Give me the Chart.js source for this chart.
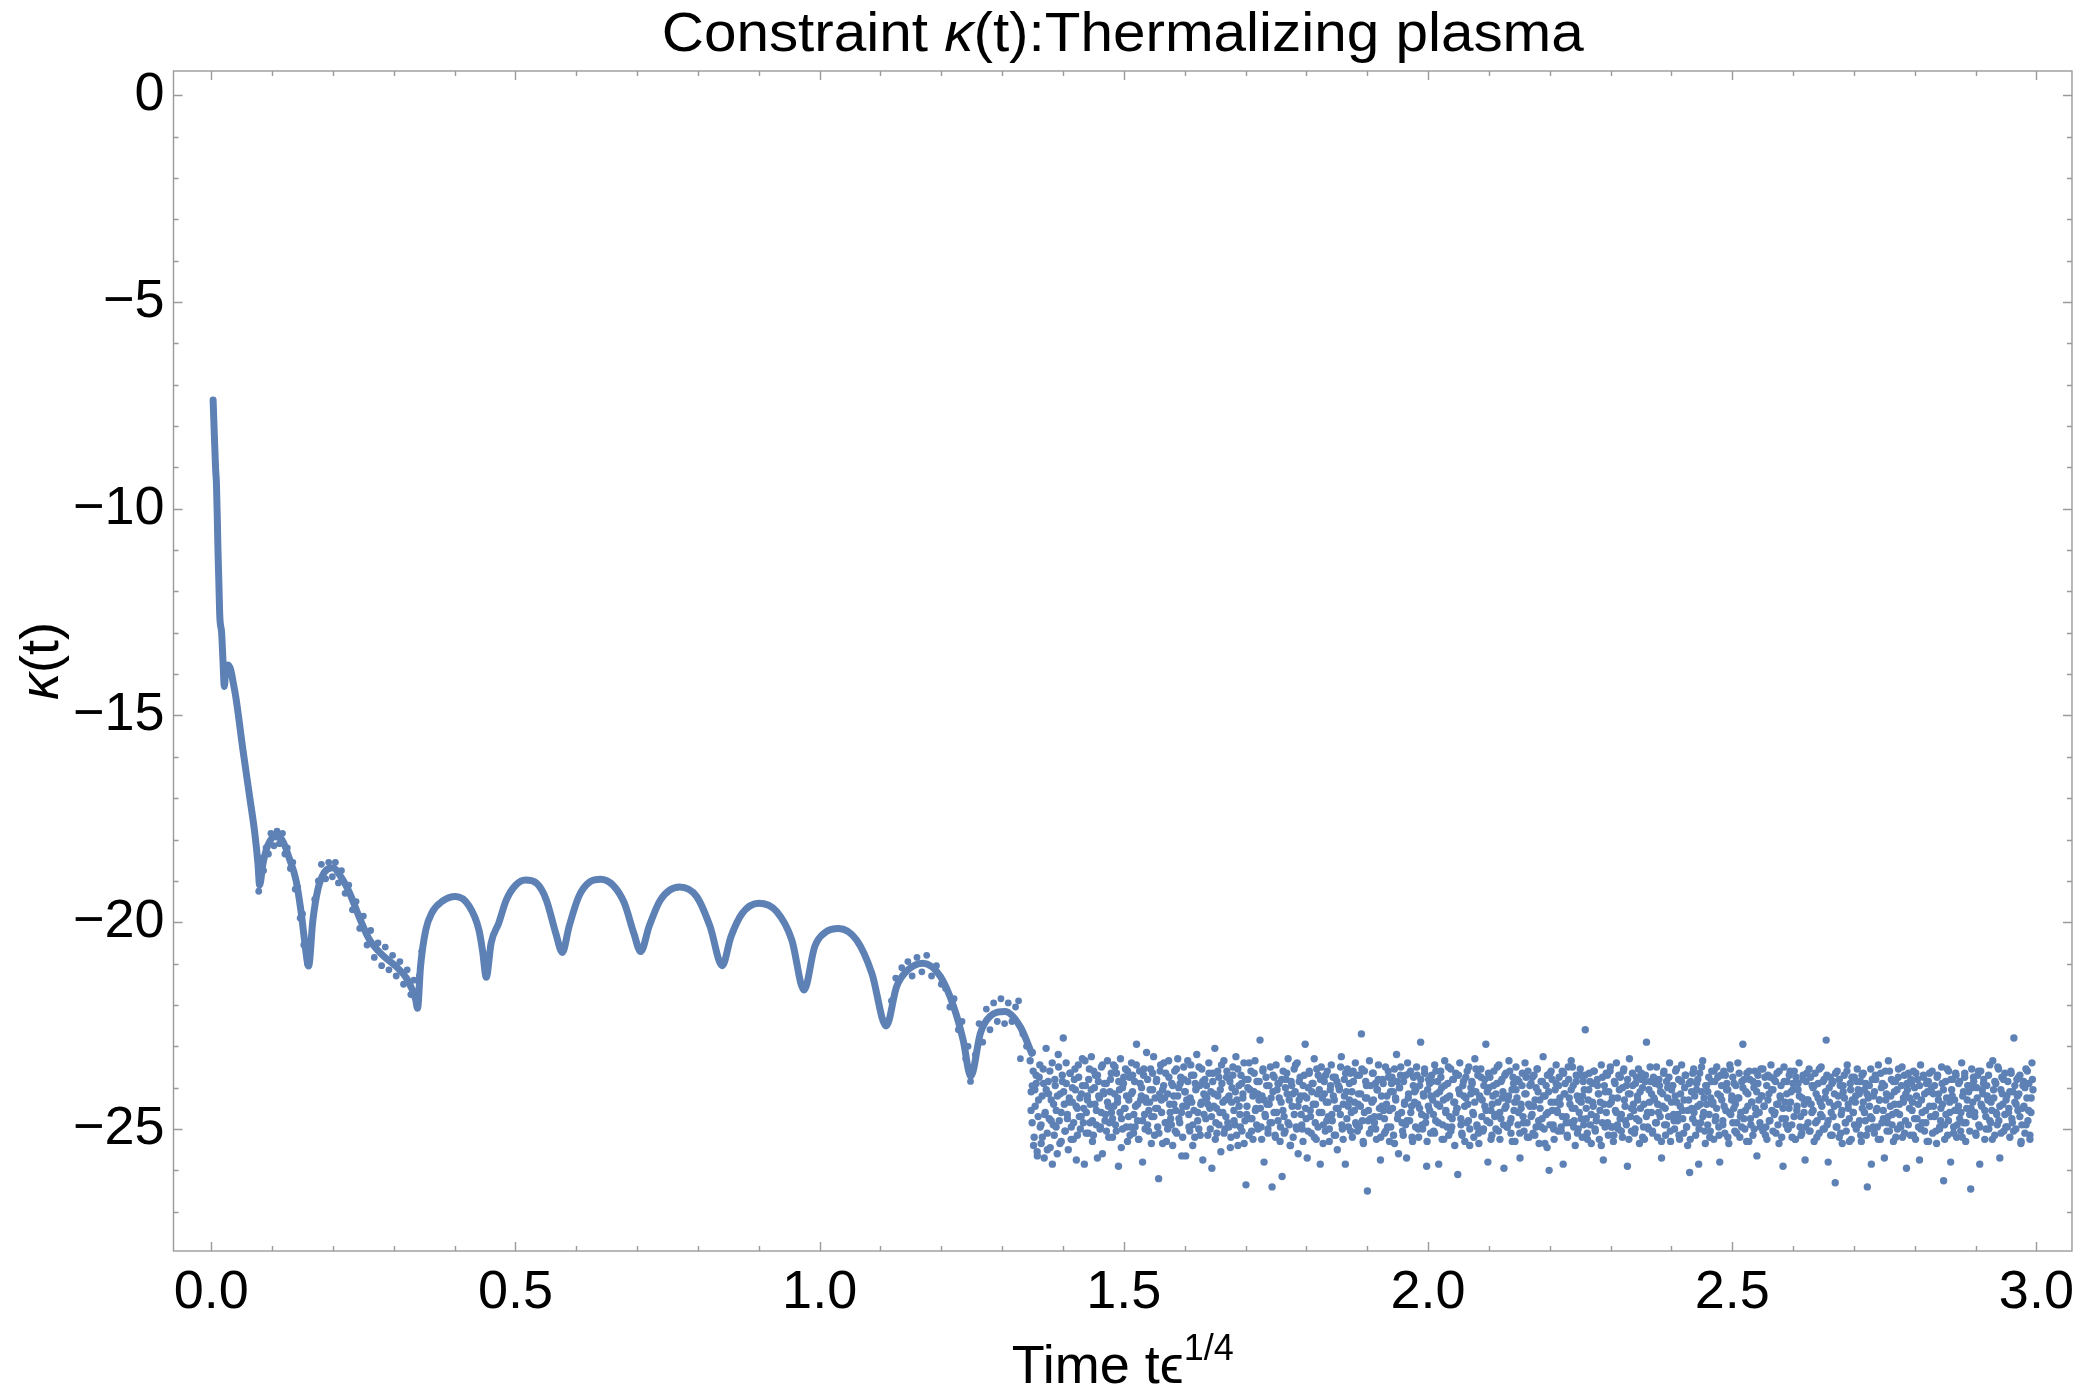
<!DOCTYPE html>
<html>
<head>
<meta charset="utf-8">
<title>Constraint κ(t): Thermalizing plasma</title>
<script src="https://cdn.jsdelivr.net/npm/chart.js@4.4.1/dist/chart.umd.min.js"></script>
<style>
  html, body { margin: 0; padding: 0; background: #fff; }
  #myChart { display: block; }
</style>
</head>
<body>
<canvas id="myChart" width="2084" height="1398"></canvas>
<script>
//DATA
// smooth part of kappa(t): early drop and the bouncing arches
const curveT = [0.003, 0.005, 0.007, 0.0085, 0.010, 0.011, 0.0125, 0.014, 0.017, 0.019, 0.0215,
  0.024, 0.028, 0.032, 0.036, 0.041, 0.052, 0.063, 0.0713, 0.0767, 0.0794,
  0.085, 0.093, 0.104, 0.115, 0.1286, 0.1395, 0.1477, 0.153, 0.160,
  0.1668, 0.175, 0.186, 0.1995, 0.213, 0.227, 0.243, 0.2596, 0.281, 0.303, 0.322, 0.336, 0.339,
  0.344, 0.3525, 0.363, 0.380, 0.4016, 0.4234, 0.44, 0.446, 0.452,
  0.46, 0.4725, 0.485, 0.5006, 0.5163, 0.535, 0.5507, 0.5663, 0.577,
  0.5882, 0.604, 0.6227, 0.640, 0.660, 0.679, 0.6946, 0.7059,
  0.7197, 0.7384, 0.7697, 0.7979, 0.8198, 0.8398,
  0.8542, 0.873, 0.90, 0.9293, 0.9543, 0.9743,
  0.9919, 1.0106, 1.0313, 1.0607, 1.0857, 1.1095,
  1.1264, 1.1452, 1.170, 1.1984, 1.2203, 1.2359, 1.2484,
  1.2641, 1.2797, 1.3048, 1.3298, 1.3486];
const curveK = [-7.37, -8.2, -9.0, -9.4, -10.3, -11.0, -11.8, -12.6, -13.0, -13.6, -14.3,
  -13.85, -13.78, -13.9, -14.2, -14.62, -15.83, -16.96, -17.82, -18.58, -19.1,
  -18.58, -18.14, -17.93, -17.98, -18.47, -19.0, -19.76, -20.4, -21.06,
  -19.98, -19.22, -18.79, -18.68, -18.9, -19.28, -19.87, -20.41, -20.79, -21.06, -21.38, -21.87, -22.08,
  -21.06, -20.19, -19.76, -19.49, -19.38, -19.6, -20.19, -20.7, -21.33,
  -20.5, -20.02, -19.46, -19.1, -18.98, -19.06, -19.46, -20.27, -20.73,
  -20.1, -19.38, -19.02, -18.96, -19.1, -19.54, -20.27, -20.71,
  -20.1, -19.46, -19.15, -19.38, -20.1, -21.05,
  -20.35, -19.78, -19.54, -19.74, -20.43, -21.64,
  -20.59, -20.23, -20.15, -20.43, -21.23, -22.51,
  -21.56, -21.15, -20.99, -21.31, -22.04, -22.85, -23.73,
  -22.69, -22.28, -22.16, -22.53, -23.17];

// scattered points around the noisier arches
const jitterT = [0.078, 0.080, 0.082, 0.086, 0.090, 0.094, 0.098, 0.103, 0.108, 0.112, 0.117, 0.121,
  0.125, 0.130, 0.134, 0.138, 0.142, 0.146, 0.150, 0.152, 0.156, 0.158, 0.162,
  0.170, 0.176, 0.181, 0.188, 0.193, 0.199, 0.204, 0.209, 0.214, 0.220, 0.226, 0.232, 0.238,
  0.244, 0.250, 0.256, 0.262, 0.268, 0.274, 0.280, 0.286, 0.292, 0.298, 0.304, 0.310, 0.316,
  0.322, 0.328, 0.333, 0.337, 0.342, 0.346,
  1.118, 1.125, 1.135, 1.145, 1.152, 1.160, 1.168, 1.176, 1.184, 1.192, 1.200, 1.207, 1.214,
  1.221, 1.228, 1.234, 1.240, 1.244, 1.248, 1.252, 1.256, 1.262, 1.268, 1.274, 1.280, 1.286,
  1.292, 1.298, 1.304, 1.310, 1.316, 1.322, 1.327, 1.330, 1.334, 1.340, 1.349];
const jitterK = [-19.25, -18.90, -18.45, -18.75, -18.20, -18.35, -17.85, -18.15, -17.80, -18.10, -17.85, -18.35,
  -18.20, -18.70, -18.55, -19.20, -19.15, -19.90, -19.80, -20.55, -20.60, -21.00, -20.50,
  -19.45, -19.00, -18.60, -18.95, -18.55, -18.90, -18.55, -19.05, -18.75, -19.30, -19.10, -19.70, -19.50,
  -20.15, -19.85, -20.55, -20.20, -20.85, -20.50, -21.05, -20.60, -21.15, -20.80, -21.30, -20.95, -21.50,
  -21.15, -21.75, -21.40, -21.95, -21.30, -20.70,
  -21.90, -21.35, -21.10, -20.95, -21.30, -20.85, -21.20, -20.80, -21.30, -21.05, -21.50, -21.60, -22.05,
  -21.85, -22.60, -22.40, -23.30, -23.00, -23.85, -23.50, -23.20, -22.45, -22.90, -22.10, -22.60, -21.95,
  -22.40, -21.85, -22.45, -21.95, -22.40, -22.05, -21.90, -23.30, -22.70, -23.00, -23.95];

// thermalized plateau, sampled every noiseStep from noiseStart
const noiseStart = 1.346;
const noiseStep = 0.00165;
const noiseK = [
  -23.35,-24.10,-24.85,-23.60,-25.20,-24.45,-23.90,-25.55,-24.70,-23.75,-24.95,-25.35,-24.20,-23.55,-25.70,-24.60,-24.05,-25.10,-23.85,-24.75,
  -25.45,-24.30,-23.40,-24.90,-25.15,-23.95,-24.55,-25.60,-23.20,-24.80,-24.15,-25.30,-23.70,-22.80,-24.40,-25.05,-23.90,-24.65,-25.50,-24.25,
  -23.65,-24.95,-24.35,-25.25,-23.80,-24.05,-25.75,-24.50,-23.45,-24.70,-25.00,-24.15,-23.30,-24.85,-25.85,-23.95,-24.60,-24.20,-25.10,-23.55,
  -24.40,-23.25,-24.80,-25.15,-24.00,-23.70,-24.55,-25.70,-23.85,-24.25,-24.95,-23.50,-25.60,-24.10,-23.90,-24.65,-25.05,-23.35,-24.45,-24.85,
  -23.80,-24.60,-25.20,-23.45,-24.15,-24.90,-23.65,-24.35,-25.90,-24.05,-23.30,-24.75,-25.00,-23.90,-24.50,-23.55,-24.20,-25.30,-24.70,-23.75,
  -24.95,-23.40,-24.10,-25.10,-23.85,-24.45,-22.95,-24.80,-25.25,-23.60,-24.30,-24.00,-25.80,-23.70,-24.65,-24.25,-23.15,-24.90,-25.05,-24.35,
  -23.55,-24.70,-24.05,-23.25,-25.15,-24.50,-23.80,-24.95,-26.20,-24.15,-23.45,-24.60,-25.35,-23.95,-24.25,-23.65,-24.85,-25.00,-23.35,-24.40,
  -24.75,-23.90,-25.40,-24.20,-23.60,-24.55,-25.10,-23.30,-24.00,-24.85,-23.75,-25.65,-24.45,-23.50,-24.10,-25.65,-24.30,-23.85,-24.65,-25.05,
  -23.45,-24.35,-24.90,-23.70,-25.20,-24.05,-23.20,-24.60,-25.00,-23.95,-24.40,-23.55,-25.75,-24.15,-23.80,-24.75,-24.25,-25.15,-23.40,-24.50,
  -24.10,-25.95,-23.65,-24.45,-23.05,-24.85,-25.10,-24.20,-23.75,-24.60,-25.55,-23.90,-24.35,-23.35,-25.00,-24.70,-23.60,-24.25,-24.95,-23.85,
  -25.20,-24.00,-23.50,-24.55,-24.90,-23.25,-24.30,-25.40,-23.95,-24.65,-23.70,-25.05,-24.15,-23.40,-24.80,-26.35,-24.45,-23.80,-25.15,-24.05,
  -23.60,-24.75,-25.25,-24.10,-23.35,-24.50,-23.85,-25.00,-24.30,-22.85,-24.95,-24.20,-23.55,-25.80,-24.65,-23.75,-24.40,-25.10,-23.95,-24.85,
  -24.25,-26.40,-23.70,-24.60,-25.15,-23.45,-24.05,-24.80,-23.90,-25.30,-24.35,-26.15,-23.60,-24.70,-25.05,-23.80,-24.15,-23.30,-24.90,-25.40,
  -23.85,-24.45,-25.20,-23.55,-24.10,-24.95,-23.40,-25.60,-24.30,-23.75,-24.65,-25.00,-23.95,-24.20,-22.95,-24.75,-25.70,-24.00,-23.65,-24.55,
  -25.10,-23.90,-24.40,-23.30,-24.85,-25.25,-24.15,-23.70,-24.60,-25.85,-23.50,-24.25,-24.90,-23.85,-25.05,-24.35,-23.60,-24.70,-25.30,-24.05,
  -23.45,-24.80,-24.20,-25.15,-23.75,-24.50,-25.50,-23.95,-24.05,-24.65,-23.25,-25.00,-24.40,-23.80,-25.85,-24.10,-23.55,-24.95,-24.30,-23.65,
  -24.60,-25.20,-23.85,-24.35,-23.40,-24.90,-25.05,-24.15,-23.70,-24.45,-22.70,-24.80,-25.35,-23.60,-24.25,-23.95,-26.50,-24.55,-23.35,-24.75,
  -25.00,-23.65,-24.30,-24.85,-23.90,-25.25,-24.05,-23.45,-24.70,-25.75,-24.20,-23.80,-24.55,-25.10,-23.50,-24.40,-24.95,-23.75,-25.30,-24.10,
  -23.90,-24.50,-25.15,-23.55,-24.25,-23.20,-24.75,-25.60,-24.00,-23.70,-24.60,-25.05,-23.85,-24.35,-24.90,-25.70,-23.40,-24.15,-24.80,-23.60,
  -24.45,-25.30,-23.75,-24.10,-24.95,-23.50,-24.40,-25.20,-23.95,-22.90,-24.65,-25.00,-24.20,-23.65,-24.85,-25.90,-24.05,-23.80,-24.55,-25.10,
  -23.70,-24.30,-25.05,-23.45,-24.80,-24.15,-23.85,-25.85,-24.45,-23.60,-24.00,-24.90,-25.25,-23.35,-24.60,-24.25,-23.90,-25.15,-24.70,-23.55,
  -24.95,-23.80,-24.35,-25.40,-23.65,-24.50,-26.10,-24.05,-23.40,-24.75,-25.10,-23.95,-24.20,-25.30,-23.75,-24.85,-24.40,-23.50,-25.00,-24.15,
  -23.85,-24.60,-25.20,-23.30,-24.10,-24.90,-23.70,-25.35,-24.25,-23.55,-24.70,-25.05,-23.95,-24.45,-22.95,-24.80,-25.80,-24.00,-23.75,-24.55,
  -25.15,-24.20,-23.60,-24.65,-25.00,-23.90,-24.35,-23.45,-25.25,-24.75,-23.80,-24.10,-25.95,-24.50,-23.65,-24.95,-24.30,-23.35,-24.85,-25.10,
  -24.05,-23.75,-24.55,-25.30,-23.50,-24.25,-24.90,-23.85,-25.70,-24.40,-23.95,-24.70,-25.05,-23.40,-24.15,-24.85,-23.60,-25.20,-24.45,-23.90,
  -24.65,-25.10,-23.70,-24.30,-24.95,-23.55,-24.10,-25.35,-24.50,-23.85,-24.75,-23.25,-25.00,-24.20,-23.95,-25.45,-24.60,-26.00,-23.65,-24.35,
  -23.80,-24.90,-25.25,-24.05,-23.45,-24.55,-25.05,-23.75,-24.40,-24.95,-23.60,-25.85,-24.15,-23.90,-24.70,-25.15,-23.50,-24.25,-24.85,-23.35,
  -24.50,-23.95,-24.80,-25.40,-23.70,-24.20,-25.00,-24.60,-23.55,-24.35,-25.20,-23.85,-24.05,-22.60,-24.75,-25.10,-24.30,-23.65,-24.90,-25.35,
  -23.90,-24.45,-23.60,-25.05,-24.70,-23.80,-24.15,-25.25,-24.35,-23.45,-24.85,-25.75,-23.95,-24.10,-24.60,-23.70,-25.15,-24.40,-23.50,-24.95,
  -24.25,-25.30,-23.85,-24.55,-23.40,-24.90,-25.00,-24.05,-23.75,-24.65,-25.20,-23.60,-24.30,-24.80,-23.95,-25.90,-24.15,-23.30,-24.70,-25.05,
  -23.65,-24.40,-25.10,-23.90,-24.75,-24.20,-23.55,-25.35,-24.50,-23.80,-24.00,-24.95,-25.25,-23.70,-22.90,-24.60,-25.00,-24.35,-23.85,-24.15,
  -25.05,-23.75,-24.30,-24.85,-23.50,-25.20,-24.60,-23.95,-24.10,-25.70,-24.45,-23.65,-24.90,-25.15,-23.85,-24.25,-24.70,-23.40,-25.30,-24.05,
  -23.95,-24.65,-25.00,-23.60,-24.35,-24.80,-23.80,-25.25,-24.15,-23.45,-24.55,-25.10,-24.00,-23.70,-24.95,-25.40,-24.30,-26.05,-23.85,-24.50,
  -24.75,-23.55,-24.20,-25.15,-23.90,-24.45,-25.85,-23.65,-24.85,-24.10,-23.35,-24.60,-25.05,-23.95,-24.40,-24.90,-23.75,-25.20,-24.25,-23.60,
  -24.40,-25.25,-23.85,-24.70,-23.50,-24.15,-24.95,-25.80,-23.70,-24.30,-24.80,-23.60,-25.10,-24.55,-23.90,-24.05,-25.35,-23.45,-24.65,-24.20,
  -23.75,-24.50,-25.05,-23.95,-24.85,-23.40,-24.25,-25.20,-24.60,-23.85,-22.95,-24.75,-25.00,-24.10,-23.65,-24.45,-25.30,-23.80,-24.90,-24.35,
  -25.15,-24.00,-23.60,-24.65,-25.65,-23.90,-24.30,-24.85,-23.55,-24.20,-25.05,-24.45,-23.75,-24.95,-25.25,-23.70,-24.15,-24.80,-23.45,-24.55,
  -24.05,-23.80,-24.60,-25.10,-23.65,-24.40,-25.35,-24.20,-23.95,-24.75,-25.90,-23.50,-24.35,-24.90,-23.85,-25.00,-24.50,-23.60,-24.10,-25.20,
  -23.90,-24.70,-25.25,-23.75,-24.45,-24.05,-23.40,-24.95,-25.15,-24.25,-23.70,-24.60,-25.75,-23.85,-24.30,-24.85,-23.55,-25.05,-24.40,-23.95,
  -24.55,-25.30,-23.65,-24.15,-24.80,-23.90,-25.10,-24.35,-23.50,-24.70,-25.00,-23.80,-24.25,-22.85,-24.90,-25.80,-24.00,-23.75,-24.60,-25.15,
  -23.85,-24.45,-26.30,-24.95,-23.60,-24.20,-25.20,-23.95,-24.65,-25.35,-24.10,-23.70,-24.85,-25.05,-23.45,-24.40,-24.75,-23.90,-25.25,-24.30,
  -24.60,-23.75,-24.35,-25.00,-23.55,-24.90,-24.15,-23.85,-25.30,-24.50,-23.65,-24.05,-24.80,-25.15,-26.40,-24.25,-23.95,-24.70,-25.85,-23.80,
  -24.20,-25.10,-23.70,-24.55,-24.95,-23.45,-24.30,-25.25,-24.00,-23.90,-24.75,-25.70,-23.60,-24.15,-24.85,-23.35,-25.05,-24.45,-23.80,-24.65,
  -25.30,-24.10,-23.85,-24.60,-25.00,-23.55,-24.40,-24.90,-23.95,-25.20,-24.25,-23.70,-24.80,-25.95,-24.05,-23.65,-24.50,-25.15,-23.90,-24.35,
  -23.60,-24.75,-25.25,-24.20,-23.80,-24.95,-25.75,-23.45,-24.30,-24.85,-23.75,-25.05,-24.55,-23.90,-24.10,-25.30,-23.65,-24.70,-24.00,-25.10,
  -24.45,-23.95,-24.65,-25.35,-23.70,-24.15,-25.00,-24.80,-23.50,-24.40,-26.25,-24.90,-23.85,-24.25,-25.15,-23.60,-24.60,-25.80,-24.05,-23.80,
  -24.95,-24.30,-23.65,-25.20,-24.55,-23.90,-24.75,-25.05,-23.40,-24.20,-24.85,-23.75,-25.30,-24.50,-23.95,-24.10,-24.65,-26.45,-23.55,-24.35,
  -23.85,-24.60,-25.10,-24.00,-23.70,-24.90,-25.85,-23.60,-24.45,-24.15,-23.80,-25.25,-24.70,-23.95,-24.30,-25.00,-23.45,-24.85,-24.55,-23.35,
  -24.25,-25.15,-23.90,-24.65,-23.50,-24.80,-25.70,-24.05,-23.75,-24.40,-25.05,-23.65,-24.95,-24.20,-23.85,-24.50,-25.20,-23.60,-24.75,-24.10,
  -22.80,-24.35,-25.00,-23.80,-24.55,-24.15,-23.70,-25.35,-24.90,-23.95,-24.45,-25.10,-23.55,-24.25,-24.80,-23.90,-25.25,-24.60,-23.40,-24.05
];

// second, interleaved run of plateau samples
const noise2Start = 1.3475;
const noise2Step = 0.00206;
const noise2K = [
  -24.55,-23.15,-25.40,-24.05,-23.70,-25.65,-24.30,-23.45,-24.90,-25.20,-23.90,-24.65,-23.05,-25.50,-24.15,-23.60,-24.80,-25.85,-24.40,-23.80,
  -24.95,-24.20,-23.50,-25.35,-24.60,-23.85,-24.10,-25.05,-23.40,-24.75,-24.35,-23.65,-25.25,-24.00,-24.85,-23.55,-24.45,-25.15,-23.75,-24.25,
  -24.70,-23.95,-24.50,-23.35,-25.10,-24.30,-23.80,-24.85,-24.05,-25.30,-23.60,-24.40,-24.90,-23.70,-24.20,-25.00,-24.60,-23.45,-24.15,-24.80,
  -23.90,-24.35,-25.20,-24.10,-23.65,-24.75,-24.45,-23.50,-25.05,-24.25,-23.85,-24.60,-25.45,-24.00,-23.75,-24.50,-24.95,-23.60,-24.30,-25.15,
  -24.15,-23.70,-24.65,-24.95,-23.45,-24.40,-25.25,-23.90,-24.20,-24.80,-23.55,-25.00,-24.35,-23.80,-24.55,-24.05,-25.35,-23.65,-24.70,-24.25,
  -23.85,-24.50,-25.10,-23.60,-24.30,-24.05,-23.40,-24.85,-25.30,-24.15,-23.75,-24.60,-24.90,-23.95,-24.40,-25.05,-23.55,-24.20,-24.75,-23.90,
  -24.60,-25.20,-23.80,-24.10,-24.45,-23.35,-24.95,-24.25,-23.70,-25.40,-24.55,-23.90,-24.00,-24.80,-23.50,-25.15,-24.35,-23.85,-24.65,-24.20,
  -23.95,-24.40,-23.65,-25.00,-24.70,-23.85,-24.15,-25.25,-24.50,-23.60,-24.90,-24.05,-23.45,-24.60,-25.10,-24.30,-23.75,-24.85,-24.20,-25.45,
  -24.35,-23.70,-24.80,-24.10,-25.15,-23.55,-24.45,-24.95,-23.90,-24.25,-25.35,-23.80,-24.65,-24.00,-23.40,-24.75,-25.05,-24.20,-23.65,-24.55,
  -24.90,-24.15,-23.85,-24.50,-25.25,-23.60,-24.30,-24.70,-23.95,-25.00,-24.40,-23.50,-24.85,-24.10,-23.75,-25.20,-24.60,-23.90,-24.25,-24.95,
  -23.80,-24.55,-25.10,-24.00,-23.65,-24.85,-24.30,-25.40,-23.95,-24.15,-24.65,-23.45,-25.00,-24.45,-23.85,-24.20,-24.90,-25.30,-23.70,-24.50,
  -24.25,-25.05,-23.60,-24.70,-24.10,-23.90,-25.20,-24.40,-23.55,-24.95,-24.05,-23.80,-24.60,-25.35,-24.15,-23.70,-24.80,-24.35,-25.00,-23.95,
  -24.65,-23.75,-24.30,-25.15,-23.85,-24.50,-24.00,-23.50,-24.90,-25.25,-24.20,-23.65,-24.75,-24.45,-23.90,-25.05,-24.10,-23.60,-24.55,-24.85,
  -23.70,-24.40,-24.95,-24.15,-23.55,-25.30,-24.60,-23.85,-24.25,-24.80,-25.10,-23.95,-24.35,-23.65,-24.70,-25.00,-24.05,-23.80,-24.50,-25.20,
  -24.45,-23.90,-24.75,-25.05,-24.20,-23.60,-24.55,-24.95,-23.75,-24.10,-25.35,-24.30,-23.85,-24.65,-24.00,-23.50,-24.85,-25.15,-24.40,-23.70,
  -24.80,-24.25,-23.65,-24.60,-25.20,-23.95,-24.35,-24.05,-23.70,-25.00,-24.50,-23.80,-24.90,-24.15,-23.55,-24.70,-25.30,-24.45,-23.90,-24.20,
  -23.85,-24.65,-25.10,-23.60,-24.40,-24.85,-24.10,-23.75,-25.25,-24.30,-23.95,-24.55,-24.95,-23.50,-24.20,-25.05,-24.75,-23.80,-24.35,-24.60,
  -24.50,-23.70,-24.15,-24.90,-25.15,-23.85,-24.45,-24.25,-23.60,-24.80,-25.40,-24.00,-23.90,-24.65,-24.35,-23.55,-24.95,-25.10,-24.20,-23.75,
  -24.30,-25.00,-23.80,-24.55,-24.10,-23.65,-24.85,-25.25,-24.40,-23.95,-24.70,-24.15,-23.50,-25.05,-24.60,-23.85,-24.25,-24.90,-23.70,-24.45,
  -24.95,-24.20,-23.60,-24.75,-25.30,-23.90,-24.35,-24.05,-23.80,-24.60,-25.10,-24.50,-23.65,-24.85,-24.15,-23.75,-25.20,-24.40,-23.95,-24.70,
  -23.75,-24.45,-25.15,-24.00,-23.55,-24.80,-24.30,-24.95,-23.85,-24.20,-25.35,-24.65,-23.70,-24.10,-24.90,-23.60,-24.55,-25.00,-24.35,-23.90,
  -24.60,-23.95,-24.25,-25.05,-24.70,-23.65,-24.15,-24.85,-25.20,-23.80,-24.40,-24.05,-23.50,-24.95,-24.50,-23.85,-25.10,-24.30,-23.70,-24.75,
  -24.20,-24.90,-23.70,-24.50,-25.25,-24.05,-23.85,-24.65,-24.35,-23.60,-25.00,-24.80,-23.95,-24.15,-24.55,-25.40,-23.75,-24.40,-24.95,-23.65,
  -24.85,-24.10,-23.60,-24.35,-24.95,-25.15,-23.90,-24.60,-24.25,-23.70,-24.75,-25.05,-24.00,-23.55,-24.45,-24.90,-23.80,-25.25,-24.15,-24.50,
  -23.95,-24.55,-25.00,-23.75,-24.30,-24.80,-24.10,-23.65,-25.20,-24.40,-23.85,-24.70,-24.95,-24.05,-23.50,-24.60,-25.10,-24.25,-23.90,-24.85,
  -24.40,-23.80,-24.70,-25.30,-24.15,-23.60,-24.50,-24.90,-24.00,-23.75,-25.05,-24.35,-23.95,-24.80,-24.20,-23.55,-24.65,-25.15,-24.45,-23.85,
  -24.75,-24.30,-23.70,-24.95,-24.55,-23.90,-25.25,-24.10,-23.65,-24.60,-24.85,-24.05,-23.80,-25.00,-24.40,-23.50,-24.70,-24.25,-25.35,-23.95,
  -24.10,-24.65,-25.05,-23.85,-24.35,-23.60,-24.80,-24.50,-23.75,-25.15,-24.20,-23.95,-24.90,-24.45,-23.70,-24.05,-25.20,-24.60,-23.55,-24.30,
  -24.85,-23.90,-24.40,-25.10,-24.25,-23.65,-24.70,-24.95,-24.00,-23.80,-24.55,-25.30,-24.15,-23.60,-24.75,-24.35,-23.85,-25.00,-24.50,-24.10,
  -23.70,-24.60,-24.95,-24.20,-23.55,-24.45,-25.15,-23.95,-24.30,-24.80,-23.75,-24.05,-25.05,-24.65,-23.85,-24.40,-24.90,-23.60,-24.25,-25.20,
  -24.50,-23.85,-24.75,-24.15,-25.00,-23.70,-24.35,-24.90,-24.05,-23.60,-25.25,-24.55,-23.90,-24.20,-24.70,-25.10,-23.80,-24.40,-24.95,-23.65,
  -24.30,-25.05,-23.75,-24.60,-24.00,-23.95,-24.85,-25.20,-24.25,-23.55,-24.65,-24.45,-23.85,-25.00,-24.10,-23.70,-24.80,-24.35,-25.15,-23.90,
  -24.70,-24.15,-23.65,-24.95,-24.40,-23.80,-25.10,-24.55,-23.95,-24.25,-24.85,-23.60,-24.50,-25.30,-24.05,-23.75,-24.60,-24.90,-24.20,-23.85,
  -24.05,-24.80,-25.15,-23.70,-24.35,-24.60,-23.90,-24.15,-25.00,-24.45,-23.55,-24.75,-24.95,-24.10,-23.80,-24.50,-25.25,-24.30,-23.65,-24.85,
  -24.55,-23.95,-24.30,-25.05,-24.70,-23.60,-24.20,-24.90,-23.85,-24.40,-25.20,-24.05,-23.75,-24.65,-24.95,-23.50,-24.35,-25.10,-24.15,-23.90,
  -24.90,-24.25,-23.80,-24.55,-25.15,-24.00,-23.65,-24.75,-24.40,-23.95,-25.00,-24.60,-23.70,-24.15,-24.85,-25.30,-23.85,-24.45,-24.10,-23.60,
  -24.15,-24.70,-25.05,-23.75,-24.30,-24.95,-24.50,-23.90,-24.05,-25.25,-24.65,-23.55,-24.80,-24.35,-23.80,-24.20,-25.10,-24.55,-23.70,-24.90,
  -24.45,-23.85,-24.60,-25.20,-24.10,-23.65,-24.85,-24.30,-23.95,-25.05,-24.50,-24.00,-23.75,-24.70,-25.15,-24.25,-23.60,-24.95,-24.40,-24.05,
  -23.90,-24.55,-25.00,-24.20,-23.70,-24.80,-24.35,-25.25,-24.05,-23.85,-24.60,-24.90,-23.55,-24.45,-25.10,-24.15,-23.80,-24.65,-24.30,-24.95,
  -24.60,-24.10,-23.65,-24.85,-25.05,-23.95,-24.40,-24.20,-23.75,-24.70,-25.30,-24.50,-23.85,-24.00,-24.90,-23.60,-24.55,-25.15,-24.25,-23.80
];

const xTickLabels = [0, 0.5, 1, 1.5, 2, 2.5, 3];
const yTickLabels = [-25, -20, -15, -10, -5, 0];

const blue = "rgb(94, 129, 181)";
const fontFamily = '"Liberation Sans", Arial, Helvetica, sans-serif';

const toPoints = (ts, ks) => ts.map((t, i) => ({ x: t, y: ks[i] }));
const sampled = (t0, dt, ks) => ks.map((k, i) => ({ x: t0 + i * dt, y: k }));

// frame with inward ticks on all four sides, like the original
const frameTicks = {
  id: "frameTicks",
  afterDatasetsDraw(chart) {
    const { ctx, chartArea: a, scales: { x, y } } = chart;
    ctx.save();
    ctx.strokeStyle = "#9a9a9a";
    ctx.lineWidth = 1.4;
    ctx.strokeRect(a.left, a.top, a.right - a.left, a.bottom - a.top);
    ctx.beginPath();
    for (let i = 0; i <= 30; i++) {
      const px = Math.round(x.getPixelForValue(i / 10)) + 0.5;
      const len = i % 5 === 0 ? 9 : 5;
      ctx.moveTo(px, a.bottom); ctx.lineTo(px, a.bottom - len);
      ctx.moveTo(px, a.top); ctx.lineTo(px, a.top + len);
    }
    for (let v = -27; v <= 0; v++) {
      const py = Math.round(y.getPixelForValue(v)) + 0.5;
      const len = v % 5 === 0 ? 9 : 5;
      ctx.moveTo(a.left, py); ctx.lineTo(a.left + len, py);
      ctx.moveTo(a.right, py); ctx.lineTo(a.right - len, py);
    }
    ctx.stroke();
    ctx.restore();
  },
};

// writes a run of text pieces [text, style, size, raise] centred on cx,
// optionally stretched sideways to a given width
function runText(ctx, parts, cx, y, width) {
  let w = 0;
  for (const [s, st, sz] of parts) {
    ctx.font = `${st}${sz}px ${fontFamily}`;
    w += ctx.measureText(s).width;
  }
  const k = width ? width / w : 1;
  ctx.save();
  ctx.translate(cx - (w * k) / 2, y);
  ctx.scale(k, 1);
  let x = 0;
  for (const [s, st, sz, up] of parts) {
    ctx.font = `${st}${sz}px ${fontFamily}`;
    ctx.fillText(s, x, -up);
    x += ctx.measureText(s).width;
  }
  ctx.restore();
}

const textLabels = {
  id: "textLabels",
  afterDraw(chart) {
    const { ctx, chartArea: a } = chart;
    const cx = (a.left + a.right) / 2;
    const cy = (a.top + a.bottom) / 2;
    ctx.save();
    ctx.fillStyle = "#000";
    ctx.textAlign = "left";
    ctx.textBaseline = "alphabetic";
    runText(ctx, [["Constraint ", "", 55, 0], ["κ", "italic ", 55, 0], ["(t):Thermalizing plasma", "", 55, 0]], cx, 51, 922);
    runText(ctx, [["Time tϵ", "", 54, 0], ["1/4", "", 36, 23]], cx, 1383);
    ctx.translate(58, cy);
    ctx.rotate(-Math.PI / 2);
    runText(ctx, [["κ", "italic ", 54, 0], ["(t)", "", 54, 0]], 0, 0);
    ctx.restore();
  },
};

const data = {
  datasets: [
    {
      label: "curve",
      data: toPoints(curveT, curveK),
      showLine: true,
      borderColor: blue,
      borderWidth: 7,
      borderJoinStyle: "round",
      borderCapStyle: "round",
      cubicInterpolationMode: "monotone",
      pointRadius: 0,
    },
    {
      label: "jitter",
      data: toPoints(jitterT, jitterK),
      backgroundColor: blue,
      borderWidth: 0,
      pointRadius: 3.4,
    },
    {
      label: "plateau",
      data: sampled(noiseStart, noiseStep, noiseK),
      backgroundColor: blue,
      borderWidth: 0,
      pointRadius: 3.7,
    },
    {
      label: "plateau 2",
      data: sampled(noise2Start, noise2Step, noise2K),
      backgroundColor: blue,
      borderWidth: 0,
      pointRadius: 3.7,
    },
  ],
};

const config = {
  type: "scatter",
  data: data,
  options: {
    responsive: false,
    animation: false,
    devicePixelRatio: 1,
    layout: { padding: { top: 71, right: 2.5, left: 0, bottom: 0 } },
    plugins: {
      legend: { display: false },
      tooltip: { enabled: false },
    },
    scales: {
      x: {
        type: "linear",
        min: -0.0621,
        max: 3.0585,
        afterBuildTicks: (s) => { s.ticks = xTickLabels.map((v) => ({ value: v })); },
        afterFit: (s) => { s.height = 147; },
        ticks: {
          autoSkip: false,
          maxRotation: 0,
          padding: 10,
          color: "#000",
          font: { family: fontFamily, size: 54 },
          callback: (v) => v.toFixed(1),
        },
        grid: { display: false, drawTicks: false },
        border: { display: false },
      },
      y: {
        type: "linear",
        min: -27.95,
        max: 0.585,
        afterBuildTicks: (s) => { s.ticks = yTickLabels.map((v) => ({ value: v })); },
        afterFit: (s) => { s.width = 173.5; },
        ticks: {
          autoSkip: false,
          padding: 9,
          color: "#000",
          font: { family: fontFamily, size: 54 },
          callback: (v) => (v < 0 ? "\u2212" + Math.abs(v) : String(v)),
        },
        grid: { display: false, drawTicks: false },
        border: { display: false },
      },
    },
  },
  plugins: [frameTicks, textLabels],
};

const myChart = new Chart(document.getElementById("myChart"), config);
</script>
</body>
</html>
